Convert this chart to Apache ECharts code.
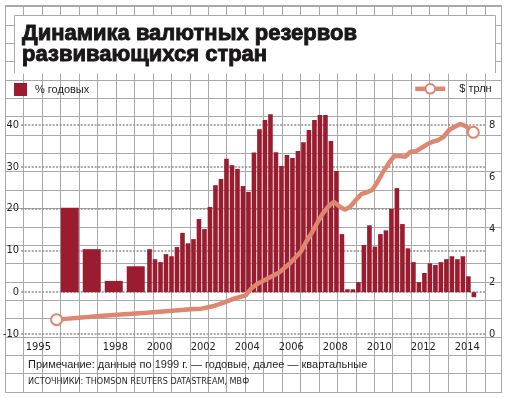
<!DOCTYPE html>
<html>
<head>
<meta charset="utf-8">
<script src="https://cdn.jsdelivr.net/npm/echarts@6/dist/echarts.min.js"></script>
<style>
  html, body { margin: 0; padding: 0; background: #fff; }
  #chart { width: 508px; height: 398px; }
</style>
</head>
<body>
<div id="chart"></div>
<script>
// годовые данные (по 1999 г.), % годовых
const annualYears = [1996, 1997, 1998, 1999];
const annualGrowth = [20.2, 10.3, 2.7, 6.2];

// квартальные данные 2000–2014, % годовых
const quarterYears = [2000, 2001, 2002, 2003, 2004, 2005, 2006, 2007, 2008, 2009, 2010, 2011, 2012, 2013, 2014];
const quarterGrowth = [
  10.3, 7.9, 7.2, 9.1,
  8.6, 10.8, 14.2, 11.7,
  12.7, 17.5, 15.1, 20.4,
  25.6, 27.1, 31.9, 30.4,
  29.5, 25.4, 24.0, 33.4,
  39.0, 41.2, 42.6, 33.5,
  30.2, 32.8, 32.1, 33.8,
  35.9, 38.8, 41.2, 42.4,
  42.4, 36.2, 29.0, 13.9,
  0.7, 0.7, 2.4, 11.3,
  16.0, 10.9, 13.9, 14.8,
  19.9, 24.9, 16.3, 10.5,
  7.2, 2.4, 4.6, 6.9,
  6.5, 7.2, 7.9, 8.6,
  7.9, 8.6, 3.8, -1.2
];

// резервы, $ трлн
const reserveDates = [1995.9, 1998.0, 2000.0, 2002.0, 2002.5, 2003.0, 2003.5, 2004.0, 2004.5, 2004.75,
  2005.0, 2005.5, 2006.0, 2006.5, 2007.0, 2007.25, 2007.5, 2007.75, 2008.0, 2008.25,
  2008.5, 2008.75, 2009.0, 2009.25, 2009.5, 2009.75, 2010.0, 2010.25, 2010.5, 2010.75,
  2011.0, 2011.25, 2011.5, 2011.75, 2012.0, 2012.25, 2012.5, 2012.75, 2013.0, 2013.25,
  2013.5, 2013.75, 2014.0, 2014.25, 2014.5, 2014.85];
const reserveValues = [0.55, 0.70, 0.81, 0.95, 0.97, 1.06, 1.20, 1.36, 1.48, 1.74,
  1.90, 2.12, 2.34, 2.70, 3.14, 3.53, 3.87, 4.25, 4.61, 4.87,
  5.06, 4.89, 4.76, 4.87, 5.12, 5.35, 5.42, 5.51, 5.83, 6.21,
  6.53, 6.81, 6.81, 6.78, 6.98, 7.00, 7.13, 7.26, 7.36, 7.42,
  7.55, 7.81, 7.93, 8.04, 7.96, 7.72];

// подписи оси X (первая подпись стоит левее года)
const yearTicks = [1994.5, 1998, 2000, 2002, 2004, 2006, 2008, 2010, 2012, 2014];

const BAR = '#9b1b2f';
const LINE = '#dd8670';
const GRIDC = '#a9a9ab';
const TEXT = '#231f20';
const FONT = "'Liberation Sans', Arial, sans-serif";
const NARROW = "'Liberation Sans Narrow', 'DejaVu Sans Condensed', sans-serif";

const annualData = annualYears.map((y, i) => [y + 0.5, annualGrowth[i]]);
const quarterData = quarterGrowth.map((v, i) => [quarterYears[Math.floor(i / 4)] + (i % 4) * 0.25 + 0.125, v]);
const reserveData = reserveDates.map((d, i) => {
  const edge = i === 0 || i === reserveDates.length - 1;
  return edge ? { value: [d, reserveValues[i]] } : { value: [d, reserveValues[i]], symbol: 'none' };
});

// фоновая сетка "в клетку"
const bg = [];
for (let k = 0; k <= 26; k++) {
  const x = Math.round(5 + 18.45 * k) + 0.5;
  bg.push({ type: 'line', z: -10, shape: { x1: x, y1: 5, x2: x, y2: 392 }, style: { stroke: GRIDC, lineWidth: 1 } });
}
bg.push({ type: 'line', z: -10, shape: { x1: 501.5, y1: 5, x2: 501.5, y2: 392 }, style: { stroke: GRIDC, lineWidth: 1 } });
for (let j = 0; j <= 21; j++) {
  const y = Math.round(391.7 - 18.35 * j) + 0.5;
  bg.push({ type: 'line', z: -10, shape: { x1: 5, y1: y, x2: 502, y2: y }, style: { stroke: GRIDC, lineWidth: 1 } });
}
bg.push({ type: 'line', z: -10, shape: { x1: 5, y1: 5.5, x2: 502, y2: 5.5 }, style: { stroke: GRIDC, lineWidth: 1 } });
// белая плашка под заголовок
bg.push({ type: 'rect', z: -5, shape: { x: 14.5, y: 15.5, width: 481, height: 58 }, style: { fill: '#fff', stroke: null } });
bg.push({ type: 'polyline', z: -4, shape: { points: [[14.5, 73], [14.5, 15.5], [495.5, 15.5], [495.5, 73]] }, style: { stroke: GRIDC, fill: null, lineWidth: 1 } });
// примечание и источники
bg.push({ type: 'text', z: 5, left: 28, top: 359, style: { text: 'Примечание: данные по 1999 г. — годовые, далее — квартальные', font: '11px ' + FONT, fill: TEXT } });
bg.push({ type: 'text', z: 5, left: 28, top: 377, style: { text: 'ИСТОЧНИКИ: THOMSON REUTERS DATASTREAM, МВФ', font: '9px ' + NARROW, fill: TEXT } });

const chart = echarts.init(document.getElementById('chart'));
chart.setOption({
  animation: false,
  backgroundColor: '#fff',
  textStyle: { fontFamily: FONT, color: TEXT },
  graphic: bg,
  title: {
    text: 'Динамика валютных резервов\nразвивающихся стран',
    left: 22, top: 23, padding: 0,
    textStyle: {
      fontFamily: FONT, fontWeight: 'bold', fontSize: 22, lineHeight: 21, color: '#1a1718',
      textBorderColor: '#1a1718', textBorderWidth: 0.9
    }
  },
  legend: [
    {
      data: ['% годовых'], left: 14, top: 83, padding: 0, selectedMode: false,
      icon: 'rect', itemWidth: 13, itemHeight: 13,
      textStyle: { fontSize: 11, color: TEXT, padding: [0, 0, 0, 3] }
    },
    {
      data: ['$ трлн'], left: 413, top: 83, padding: 0, selectedMode: false,
      itemWidth: 30, itemHeight: 12,
      lineStyle: { width: 4.5 },
      itemStyle: { borderWidth: 2.5 },
      textStyle: { fontSize: 11, color: TEXT, padding: [0, 0, 0, 9] }
    }
  ],
  grid: { left: 21, right: 23, top: 125, bottom: 64 },
  xAxis: [
    {
      type: 'value', min: 1994.29, max: 2015.38,
      axisLine: { show: false }, axisTick: { show: false }, splitLine: { show: false },
      axisLabel: {
        customValues: yearTicks, formatter: (v) => String(Math.ceil(v)),
        align: 'left', margin: 8, fontSize: 11, fontFamily: NARROW, color: TEXT
      }
    },
    { type: 'value', min: 1994.29, max: 2015.38, show: false }
  ],
  yAxis: [
    {
      type: 'value', min: -10, max: 40, interval: 10,
      axisLine: { show: false }, axisTick: { show: false },
      axisLabel: { margin: 2, fontSize: 11, fontFamily: NARROW, color: TEXT },
      splitLine: { lineStyle: { type: [2, 1.5], color: '#8c8c8c', width: 1.5 } }
    },
    {
      type: 'value', min: 0, max: 8, interval: 2, position: 'right',
      axisLine: { show: false }, axisTick: { show: false }, splitLine: { show: false },
      axisLabel: { margin: 4, fontSize: 11, fontFamily: NARROW, color: TEXT }
    }
  ],
  series: [
    {
      name: '% годовых', type: 'bar', xAxisIndex: 1, yAxisIndex: 0, clip: false,
      barWidth: 18, data: annualData, itemStyle: { color: BAR }
    },
    {
      name: '% годовых', type: 'bar', xAxisIndex: 0, yAxisIndex: 0, clip: false,
      barWidth: 4.6, data: quarterData, itemStyle: { color: BAR }
    },
    {
      name: '$ трлн', type: 'line', xAxisIndex: 0, yAxisIndex: 1, z: 5, clip: false,
      data: reserveData, symbol: 'emptyCircle', symbolSize: 11, showSymbol: true,
      lineStyle: { color: LINE, width: 4.5 },
      itemStyle: { color: LINE, borderColor: LINE, borderWidth: 2.5 }
    }
  ]
});
</script>
</body>
</html>
